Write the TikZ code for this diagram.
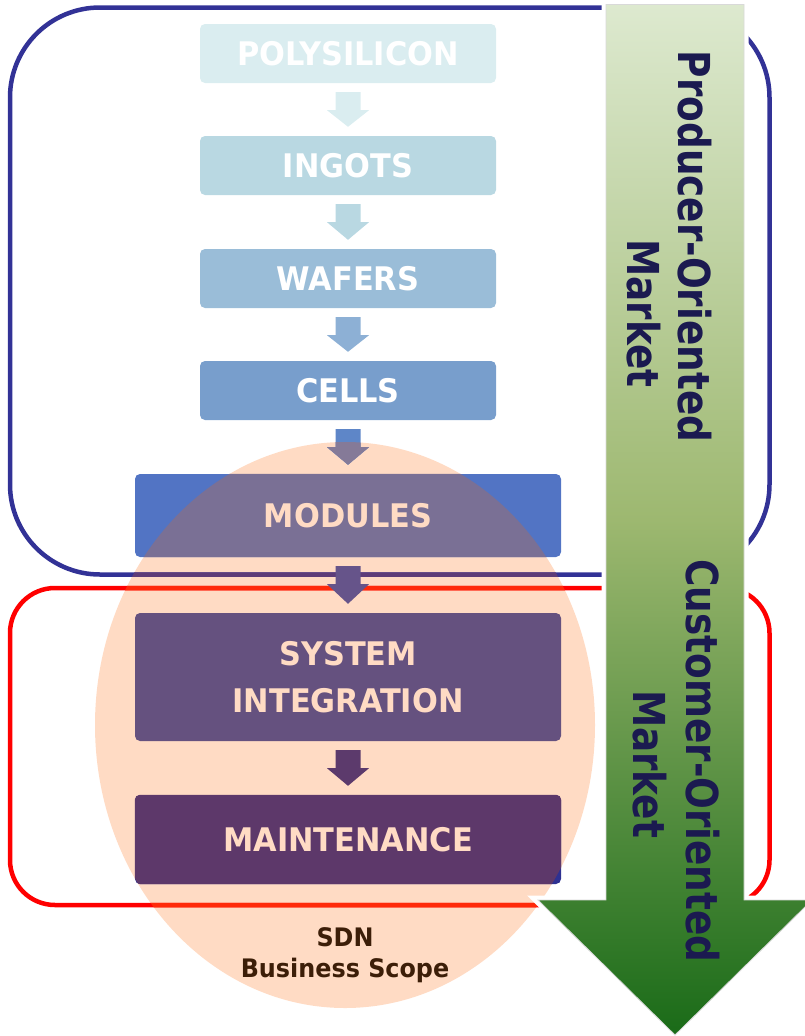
\documentclass[tikz,border=0pt]{standalone}
\usepackage{fontspec}
\usetikzlibrary{calc}
\newfontfamily\stagefont{DejaVu Sans Condensed Bold}[FakeStretch=1.04]
\newfontfamily\marketfont{DejaVu Sans Bold}[FakeStretch=0.85]

% stage fills
\definecolor{cpoly}{HTML}{DAEDF0}
\definecolor{cingot}{HTML}{B9D8E2}
\definecolor{cwafer}{HTML}{9ABDD8}
\definecolor{ccell}{HTML}{789ECC}
\definecolor{cmodule}{HTML}{5274C4}
\definecolor{cmodulein}{HTML}{7A7095}
\definecolor{csystem}{HTML}{65517F}
\definecolor{cmaint}{HTML}{2E3192}
\definecolor{cmaintin}{HTML}{5D386A}
% stage arrows
\definecolor{athree}{HTML}{8DB0D5}
\definecolor{afour}{HTML}{5E86C8}
\definecolor{afourin}{HTML}{857A98}
\definecolor{afive}{HTML}{66548A}
\definecolor{asix}{HTML}{5C3A6C}
% frames, scope, texts
\definecolor{frameblue}{HTML}{323296}
\definecolor{framebluein}{HTML}{5E3C78}
\definecolor{framered}{HTML}{FF0000}
\definecolor{frameredin}{HTML}{FF2A0A}
\definecolor{peach}{HTML}{FFDBC4}
\definecolor{navytext}{HTML}{1B1A50}
\definecolor{sdnbrown}{HTML}{3C1E08}
\definecolor{gtop}{HTML}{DDE9CF}
\definecolor{gmid}{HTML}{9DB870}
\definecolor{gbot}{HTML}{1A6B18}

% block arrow from the bottom of one stage to the top of the next
\newcommand\stagearrow[3]{%
  \fill[#1] ($(#2.south)+(-12.5,9)$) -- ($(#2.south)+(12.5,9)$)
    -- ($(#2.south)+(12.5,27)$) -- ($(#2.south)+(21,27)$)
    -- ($(#3.north)+(0,-9)$)
    -- ($(#2.south)+(-21,27)$) -- ($(#2.south)+(-12.5,27)$) -- cycle;}

\begin{document}
\begin{tikzpicture}[x=1pt,y=-1pt,
  stage/.style={rectangle, rounded corners=5pt, inner sep=0pt},
  narrow/.style={stage, minimum width=296pt, minimum height=59pt},
  wide/.style={stage, minimum width=426pt},
  stagetext/.style={font=\stagefont\fontsize{32.5}{47.5}\selectfont, align=center, inner sep=0pt},
  sdntext/.style={font=\stagefont\fontsize{25.5}{31}\selectfont, text=sdnbrown, inner sep=0pt, anchor=base},
  market/.style={font=\marketfont\fontsize{44}{50}\selectfont, text=navytext, rotate=-90, anchor=base, inner sep=0pt},
  frame/.style={line width=4.5pt}]
\useasboundingbox (0,0) rectangle (805,1036);

% business scope ellipse
\fill[peach] (345,725) ellipse [x radius=250, y radius=283];

% market frames
\draw[frame, draw=frameblue, rounded corners=90pt] (10,7.5) rectangle (769.5,574.5);
\draw[frame, draw=framered, rounded corners=45pt] (10,588) rectangle (769.5,905);
\begin{scope}
  \clip (345,725) ellipse [x radius=250, y radius=283];
  \draw[frame, draw=framebluein, rounded corners=90pt] (10,7.5) rectangle (769.5,574.5);
  \draw[frame, draw=frameredin, rounded corners=45pt] (10,588) rectangle (769.5,905);
\end{scope}

% value chain stages
\node[narrow, fill=cpoly]  (poly)  at (348,53.5)  {};
\node[narrow, fill=cingot] (ingot) at (348,165.5) {};
\node[narrow, fill=cwafer] (wafer) at (348,278.5) {};
\node[narrow, fill=ccell]  (cell)  at (348,390.5) {};
\node[wide, minimum height=83pt, fill=cmodule]  (module) at (348,515.5) {};
\node[wide, minimum height=128pt, fill=csystem] (system) at (348,677) {};
\node[wide, minimum height=89pt, fill=cmaint]   (maint)  at (348,839.5) {};
\begin{scope}
  \clip (345,725) ellipse [x radius=250, y radius=283];
  \fill[cmodulein, rounded corners=5pt] (module.north west) rectangle (module.south east);
  \fill[cmaintin, rounded corners=5pt] (maint.north west) rectangle (maint.south east);
\end{scope}

% arrows between stages
\stagearrow{cpoly}{poly}{ingot}
\stagearrow{cingot}{ingot}{wafer}
\stagearrow{athree}{wafer}{cell}
\stagearrow{afour}{cell}{module}
\begin{scope}
  \clip (345,725) ellipse [x radius=250, y radius=283];
  \stagearrow{afourin}{cell}{module}
\end{scope}
\stagearrow{afive}{module}{system}
\stagearrow{asix}{system}{maint}

% stage labels
\node[stagetext, text=white] (tpoly)  at (poly.center)  {POLYSILICON};
\node[stagetext, text=white] (tingot) at (ingot.center) {INGOTS};
\node[stagetext, text=white] (twafer) at (wafer.center) {WAFERS};
\node[stagetext, text=white] (tcell)  at (cell.center)  {CELLS};
\node[stagetext, text=peach] (tmodule) at (module.center) {MODULES};
\node[stagetext, text=peach] (tsystem) at (system.center) {SYSTEM\\INTEGRATION};
\node[stagetext, text=peach] (tmaint)  at (maint.center)  {MAINTENANCE};

% scope caption
\node[sdntext] (sdn) at (345,946) {SDN};
\node[sdntext] (scope) at (345,977) {Business Scope};

% market direction arrow
\path[draw=white, line width=9pt, line join=miter]
  (606,4.5) -- (744,4.5) -- (744,900) -- (812,900) -- (675,1035) -- (538,900) -- (606,900) -- cycle;
\shade[top color=gtop, bottom color=gbot, middle color=gmid, draw=black!15, line width=0.8pt]
  (606,4.5) -- (744,4.5) -- (744,900) -- (812,900) -- (675,1035) -- (538,900) -- (606,900) -- cycle;

% market labels
\node[market] (prod)  at (678,246.5) {Producer-Oriented};
\node[market] (prodm) at (627,313.5) {Market};
\node[market] (cust)  at (686,761)   {Customer-Oriented};
\node[market] (custm) at (633,764)   {Market};
\end{tikzpicture}
\end{document}
